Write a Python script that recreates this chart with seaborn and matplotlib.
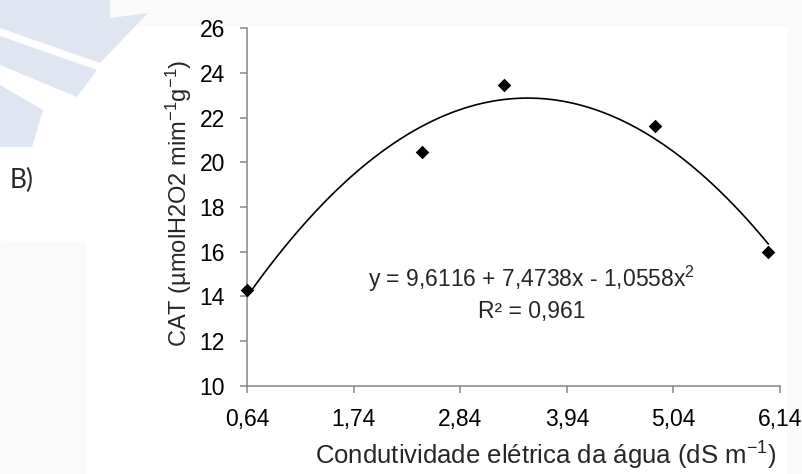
import numpy as np
import pandas as pd
import seaborn as sns
import matplotlib.pyplot as plt
from matplotlib.patches import Polygon, Rectangle

# Values
ce_agua = [0.64, 2.45, 3.29, 4.85, 6.02]
cat = [14.3, 20.47, 23.46, 21.61, 15.97]
x_ticks = [0.64, 1.74, 2.84, 3.94, 5.04, 6.14]
x_tick_labels = ['0,64', '1,74', '2,84', '3,94', '5,04', '6,14']
y_ticks = [10, 12, 14, 16, 18, 20, 22, 24, 26]
equacao = 'y = 9,6116 + 7,4738x - 1,0558x$^{2}$'
r2 = 'R² = 0,961'

df = pd.DataFrame({'CE': ce_agua, 'CAT': cat})

sns.set_style('ticks')
plt.rcParams['font.family'] = ['Liberation Sans', 'DejaVu Sans']
plt.rcParams['mathtext.default'] = 'regular'

W, H = 803, 474
fig = plt.figure(figsize=(W / 100, H / 100), dpi=100)
fig.patch.set_facecolor('#fafafa')


def px(x, y):
    return (x / W, 1 - y / H)


# page background and faint watermark from the source document
fig.add_artist(Rectangle(px(87, H), (786 - 87) / W, (H - 27) / H,
                         transform=fig.transFigure, color='white', zorder=0))
fig.add_artist(Rectangle(px(0, 240), 87 / W, 93 / H,
                         transform=fig.transFigure, color='white', zorder=0))
fig.add_artist(Rectangle(px(0, 147), 87 / W, 120 / H,
                         transform=fig.transFigure, color='white', zorder=0))
bands = [
    [(0, 0), (110, 0), (110, 18), (148, 13), (100, 63), (0, 28)],
    [(0, 36), (97, 70), (77, 97), (0, 65)],
    [(0, 85), (43, 110), (32, 147), (0, 147)],
]
for b in bands:
    fig.add_artist(Polygon([px(*p) for p in b], closed=True, transform=fig.transFigure,
                           facecolor='#e0e6f1', edgecolor='none', zorder=1))

fig.text(22 / W, 1 - 180 / H, 'B)', fontsize=19, family=['Lato', 'DejaVu Sans'],
         ha='center', va='center')

ax = fig.add_axes([247 / W, 1 - 385.7 / H, 533 / W, 357.4 / H])
ax.set_facecolor('white')

sns.regplot(data=df, x='CE', y='CAT', order=2, ci=None, scatter=False,
            color='black', line_kws={'lw': 1.2}, ax=ax)
sns.scatterplot(data=df, x='CE', y='CAT', marker='D', s=48, color='black',
                linewidth=0, ax=ax, zorder=3, clip_on=False)

ax.set_xlim(0.64, 6.14)
ax.set_ylim(10, 26)
ax.set_xticks(x_ticks)
ax.set_xticklabels(x_tick_labels)
ax.set_yticks(y_ticks)

sns.despine(ax=ax)
for s in ['left', 'bottom']:
    ax.spines[s].set_color('#868686')
    ax.spines[s].set_linewidth(1.1)
ax.tick_params(direction='out', length=5, width=1.1, color='#868686',
               labelsize=16.5, pad=11, labelcolor='black')

ax.text(3.58, 14.78, equacao, ha='center', va='center', fontsize=16.5)
ax.text(3.58, 13.30, r2, ha='center', va='center', fontsize=16.5)

ax.set_xlabel('Condutividade elétrica da água (dS m$^{-1}$)', fontsize=18.5)
ax.xaxis.set_label_coords(0.56, -0.15)
ax.set_ylabel('CAT (µmolH2O2 mim$^{-1}$g$^{-1}$)', fontsize=17)
ax.yaxis.set_label_coords(-0.10, 0.51)

fig.savefig('out.png', dpi=100)
